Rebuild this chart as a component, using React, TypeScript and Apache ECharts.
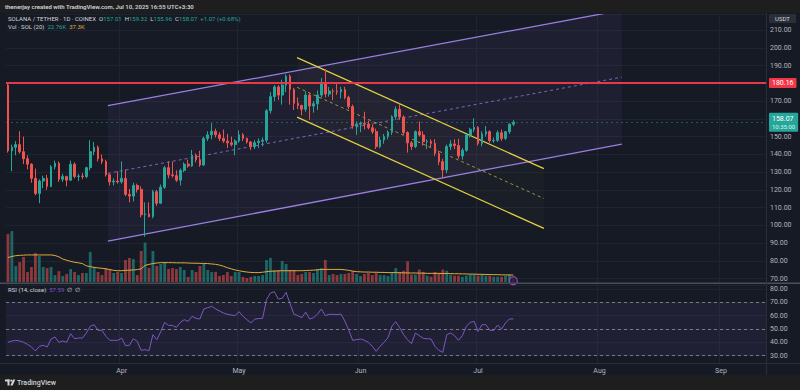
import React, { useEffect, useRef } from "react";
import * as echarts from "echarts";

const FONT = "Roboto, 'Noto Sans', sans-serif";
const MONTHS = ["Jan", "Feb", "Mar", "Apr", "May", "Jun", "Jul", "Aug", "Sep", "Oct", "Nov", "Dec"];

// daily categories 2025-03-03 .. 2025-09-12
const START_UTC = Date.UTC(2025, 2, 3);
const DAY_COUNT = 194;
const categories: string[] = [];
for (let i = 0; i < DAY_COUNT; i++) {
  categories.push(new Date(START_UTC + i * 86400000).toISOString().slice(0, 10));
}

const opens = [
  179, 142, 144, 145.5, 141.5, 137.5, 134.5, 126.5, 118, 125,
  126.5, 122, 133, 135, 126, 127.5, 125.5, 134.5, 127.5, 127.8,
  127.5, 132.5, 141.5, 144, 137.5, 136, 128.5, 124.5, 125, 124.5,
  126.5, 117.5, 116.5, 122.5, 120.3, 106, 106.5, 105, 119, 112.5,
  121.5, 132.5, 128.5, 128, 125.5, 131, 134.5, 133.5, 139.5, 137,
  134, 149, 151, 153, 151, 149, 147.5, 146.5, 145.5, 147.5,
  151, 149, 147, 144.4, 146.6, 147.4, 148, 164.6, 172.5, 178,
  173.4, 179, 184, 176.6, 168.8, 167.5, 165.4, 173.4, 167.2, 168.5,
  173.4, 179.6, 174, 175.7, 175.5, 175.2, 176.5, 172.1, 166.9, 156,
  157, 157.5, 157, 155, 152.8, 144.4, 148.1, 150, 152.5, 161.2,
  165.4, 161, 152.3, 146.5, 144.4, 152.8, 150.9, 147.1, 147.3, 146.2,
  140.6, 135.9, 131.2, 144.4, 145.9, 145, 139.1, 142.3, 150.9, 154.1,
  155.2, 146.2, 151.5, 152.8, 147.7, 147.9, 152.2, 149, 152.8, 157.01,
];
const closes = [
  142, 144, 145.5, 141.5, 137.5, 134.5, 126.5, 118, 125, 126.5,
  122, 133, 135, 126, 127.5, 125.5, 134.5, 127.5, 127.8, 127.5,
  132.5, 141.5, 144, 137.5, 136, 128.5, 124.5, 125, 124.5, 126.5,
  117.5, 116.5, 122.5, 120.3, 106, 106.5, 105, 119, 112.5, 121.5,
  132.5, 128.5, 128, 125.5, 131, 134.5, 133.5, 139.5, 137, 134,
  149, 151, 153, 151, 149, 147.5, 146.5, 145.5, 147.5, 151,
  149, 147, 144.4, 146.6, 147.4, 148, 164.6, 172.5, 178, 173.4,
  179, 184, 176.6, 168.8, 167.5, 165.4, 173.4, 167.2, 168.5, 173.4,
  179.6, 174, 175.7, 175.5, 175.2, 176.5, 172.1, 166.9, 156, 157,
  157.5, 157, 155, 152.8, 144.4, 148.1, 150, 152.5, 161.2, 165.4,
  161, 152.3, 146.5, 144.4, 152.8, 150.9, 147.1, 147.3, 146.2, 140.6,
  135.9, 131.2, 144.4, 145.9, 145, 139.1, 142.3, 150.9, 154.1, 155.2,
  146.2, 151.5, 152.8, 147.7, 147.9, 152.2, 149, 152.8, 157.01, 158.07,
];
const highs = [
  180, 145.5, 147.5, 153, 150, 139.5, 135, 132, 126, 128,
  128.5, 134, 136.5, 136, 129, 128, 136.5, 135.5, 129, 129.5,
  133, 148, 147, 145, 140, 137, 129, 126.5, 130.5, 136,
  131.5, 120.5, 124, 123.5, 122, 113, 113, 120, 120, 123,
  133.5, 136, 136, 131, 132, 135.5, 137, 142.5, 140.5, 142,
  150, 153, 157.5, 154.5, 152.5, 154, 151.5, 150, 148.5, 153.5,
  152, 149.5, 147.5, 148, 149, 149.5, 165.5, 175, 179, 179,
  182, 185, 185, 177.5, 172, 168, 175.5, 174.5, 170, 176,
  183, 188, 178, 177, 180, 178, 178, 173, 168, 158.5,
  158.5, 164, 159, 157, 154.5, 150, 151.5, 153.5, 162, 167,
  168.5, 162, 153, 147.5, 153.5, 158.5, 153, 148.5, 148.5, 148.5,
  142, 137.5, 145.5, 148, 148.5, 148.8, 143.5, 151.5, 155, 160.3,
  156, 153, 156, 153.5, 149.5, 153.5, 154, 153, 157.5, 159.32,
];
const lows = [
  141, 130.5, 139.5, 140.5, 134.5, 131.5, 124, 117, 112.5, 121,
  120, 121.5, 131.5, 124.5, 124.5, 122, 125, 126.5, 125, 126,
  126.5, 131, 139.5, 136, 134.5, 127.5, 122.5, 122.5, 123.5, 123.5,
  116.5, 113, 113.5, 118.5, 104.5, 93.7, 104.5, 104, 111, 112,
  120.5, 126.5, 127, 124.5, 122.5, 130, 132.5, 133, 135.5, 133,
  133.5, 147.5, 148.5, 149.5, 147.5, 146.5, 143.5, 144.5, 139.5, 146.5,
  147.5, 146, 142.5, 143, 143.5, 144.5, 146.5, 163, 170, 170.5,
  168, 175, 168, 165, 165.5, 162, 164, 159.5, 163.5, 165,
  172, 172, 172.5, 170.5, 173.5, 171.5, 171, 165.5, 154.5, 151,
  152.5, 154, 154, 151.5, 143, 143.5, 146, 148.5, 151, 159.5,
  159.5, 151, 141, 142.5, 143.5, 150, 145, 143, 144, 139,
  134, 126.5, 129.5, 142.5, 143, 137.5, 137, 141.5, 149.5, 152.5,
  145, 144.5, 150, 146.5, 146.5, 147, 147.5, 148, 151.5, 155.96,
];
// volume in thousands of SOL
const volumesK = [
  255, 271, 85, 106, 133, 53, 80, 154, 138, 80,
  74, 80, 37, 58, 32, 43, 69, 53, 37, 48,
  48, 160, 80, 53, 37, 74, 69, 48, 53, 48,
  117, 128, 122, 37, 165, 210, 75, 165, 85, 96,
  106, 69, 74, 69, 80, 64, 27, 64, 53, 85,
  96, 64, 53, 53, 32, 37, 53, 32, 53, 53,
  27, 21, 27, 32, 32, 37, 117, 128, 64, 64,
  112, 96, 64, 64, 37, 43, 53, 53, 48, 69,
  74, 117, 37, 43, 37, 43, 43, 48, 58, 43,
  32, 43, 48, 37, 48, 37, 37, 32, 48, 74,
  54, 60, 110, 40, 40, 66, 54, 34, 28, 54,
  46, 66, 60, 40, 34, 34, 28, 34, 40, 40,
  34, 40, 34, 34, 28, 28, 28, 34, 40, 22.76,
];
const volumeMA20K = [
  130, 136, 140, 142, 143, 144, 144, 144, 144, 144,
  144, 144, 141, 134, 122, 116, 110, 105, 102, 98,
  86, 82, 78, 75, 73, 70, 66, 62, 60, 60,
  62, 63, 64, 66, 70, 88, 94, 98, 101, 103,
  103, 103, 103, 102, 102, 102, 101, 100, 100, 99,
  99, 98, 96, 94, 90, 84, 76, 70, 64, 60,
  56, 53, 51, 50, 50, 52, 55, 57, 58, 59,
  60, 60, 60, 60, 60, 60, 61, 62, 63, 65,
  67, 67, 67, 67, 67, 67, 65, 62, 58, 55,
  54, 53, 53, 52, 52, 51, 51, 50, 50, 50,
  49, 49, 48, 48, 48, 47, 47, 46, 46, 46,
  46, 45, 45, 45, 44, 44, 43, 43, 42, 42,
  41, 41, 40, 40, 39, 39, 38, 38, 37.5, 37.3,
];
const rsi14 = [
  40, 41, 41.5, 41, 40, 38.5, 36.5, 33.5, 37, 37.8,
  36.5, 42.5, 44, 40, 41, 40, 46.5, 42.7, 43.2, 43.2,
  47, 52, 53.2, 49, 49, 44.5, 41.5, 41.5, 41.5, 43.2,
  37.5, 37.8, 42.7, 40.7, 34, 34.5, 33.7, 45.7, 42, 48,
  55, 52.7, 52.7, 51.2, 55, 57, 55.7, 59.5, 58, 57.5,
  65, 66, 67, 65, 63.5, 62, 61, 60.5, 60, 63,
  59.5, 57, 54.5, 57.5, 57.8, 58, 72, 77, 78, 72.5,
  73, 77.5, 69, 61, 60, 58.5, 62.7, 57.5, 58.5, 61,
  65, 60, 61, 61, 60.8, 61.2, 56, 49, 41.5, 42,
  42.5, 41.5, 40, 37, 33.3, 37, 40, 43.5, 52, 55.5,
  51, 45.7, 42, 39, 47, 45, 43, 42.7, 42.5, 37,
  34, 32.5, 45.7, 47, 45, 41.5, 45, 52, 55, 55.7,
  48.2, 53.2, 53.2, 49, 49, 53, 50, 54.5, 57.5, 57.59,
];

const RESISTANCE_LEVEL = 180.16;
const LAST_PRICE = 158.07;
const RSI_LEVELS = [70, 50, 30];
// price ticks hidden behind the price tags on the right scale
const COVERED_TICKS = [160, 180];

// channel anchors (day index start, day index end, upper start, upper end, lower start, lower end)
const ascendingChannel = [25.5, 156.7, 167.4, 221.2, 91.2, 145.8];
const descendingChannel = [73.8, 136.8, 194.5, 132.0, 161.0, 98.3];

const CHANNEL_STYLES = [
  { line: "#9a7fe3", mid: "rgba(154,127,227,0.75)", fill: "rgba(126,87,194,0.09)" },
  { line: "#e3d040", mid: "rgba(227,208,64,0.65)", fill: "rgba(227,208,64,0.025)" },
];

export default function App() {
  const ref = useRef<HTMLDivElement>(null);

  useEffect(() => {
    document.body.style.margin = "0";
    document.body.style.background = "#1e1e1e";
    const chart = echarts.init(ref.current as HTMLDivElement, undefined, { renderer: "svg" });

    const UP = "#26a69a";
    const DOWN = "#ef5350";
    const GRID = "#1f2430";
    const AXIS_TEXT = "#b2b5be";

    const candleData = opens.map((o, i) => [o, closes[i], lows[i], highs[i]]);
    const volumeData = volumesK.map((v, i) => ({
      value: v,
      itemStyle: { color: closes[i] >= opens[i] ? "rgba(38,166,154,0.55)" : "rgba(239,83,80,0.55)" },
    }));
    const isMonthStart = (i: number) => categories[i].endsWith("-01");
    const monthLabel = (v: string) => MONTHS[parseInt(v.slice(5, 7), 10) - 1];
    const priceLabel = (v: number) =>
      COVERED_TICKS.some((t) => Math.abs(t - v) < 1e-6) ? "" : v.toFixed(2);

    const option = {
      animation: false,
      backgroundColor: "#161a25",
      textStyle: { fontFamily: FONT },
      grid: [
        { left: 6, right: 34, top: 14, height: 269 },
        { left: 6, right: 34, top: 217, height: 65 },
        { left: 6, right: 34, top: 285, height: 78 },
      ],
      xAxis: [
        {
          type: "category", gridIndex: 0, data: categories, boundaryGap: true,
          axisLine: { show: false }, axisTick: { show: false }, axisLabel: { show: false },
          splitLine: { show: true, interval: (i: number) => isMonthStart(i), lineStyle: { color: GRID, width: 1 } },
        },
        { type: "category", gridIndex: 1, data: categories, boundaryGap: true, show: false },
        {
          type: "category", gridIndex: 2, data: categories, boundaryGap: true,
          axisLine: { show: false }, axisTick: { show: false },
          axisLabel: {
            show: true, interval: (i: number) => isMonthStart(i), formatter: monthLabel,
            color: AXIS_TEXT, fontSize: 7, margin: 4, fontFamily: FONT,
          },
          splitLine: { show: true, interval: (i: number) => isMonthStart(i), lineStyle: { color: GRID, width: 1 } },
        },
        { type: "value", gridIndex: 0, min: -0.5, max: DAY_COUNT - 0.5, show: false },
      ],
      yAxis: [
        {
          type: "value", gridIndex: 0, position: "right", min: 67.58, max: 219.04, splitNumber: 15,
          axisLine: { show: false }, axisTick: { show: false },
          axisLabel: {
            color: AXIS_TEXT, fontSize: 7, margin: 4, fontFamily: FONT,
            formatter: priceLabel, showMinLabel: false, showMaxLabel: false,
          },
          splitLine: { lineStyle: { color: GRID, width: 1 } },
        },
        { type: "value", gridIndex: 1, min: 0, max: 346, show: false },
        {
          type: "value", gridIndex: 2, position: "right", min: 24.5, max: 83, splitNumber: 6,
          axisLine: { show: false }, axisTick: { show: false },
          axisLabel: {
            color: AXIS_TEXT, fontSize: 7, margin: 4, fontFamily: FONT,
            formatter: (v: number) => v.toFixed(2), showMinLabel: false, showMaxLabel: false,
          },
          splitLine: { lineStyle: { color: GRID, width: 1 } },
        },
      ],
      series: [
        {
          type: "custom",
          xAxisIndex: 3,
          yAxisIndex: 0,
          clip: true,
          silent: true,
          z: 1,
          data: [ascendingChannel, descendingChannel],
          encode: { x: [0, 1], y: [2, 3, 4, 5] },
          renderItem: (params: any, api: any) => {
            const st = CHANNEL_STYLES[params.dataIndex];
            const x0 = api.value(0), x1 = api.value(1);
            const u0 = api.coord([x0, api.value(2)]);
            const u1 = api.coord([x1, api.value(3)]);
            const l0 = api.coord([x0, api.value(4)]);
            const l1 = api.coord([x1, api.value(5)]);
            const m0 = [(u0[0] + l0[0]) / 2, (u0[1] + l0[1]) / 2];
            const m1 = [(u1[0] + l1[0]) / 2, (u1[1] + l1[1]) / 2];
            const seg = (a: number[], b: number[], stroke: string, w: number, dash?: number[]) => ({
              type: "line",
              shape: { x1: a[0], y1: a[1], x2: b[0], y2: b[1] },
              style: { stroke, lineWidth: w, lineDash: dash || null, fill: null },
            });
            return {
              type: "group",
              children: [
                { type: "polygon", shape: { points: [u0, u1, l1, l0] }, style: { fill: st.fill } },
                seg(u0, u1, st.line, 1.3),
                seg(l0, l1, st.line, 1.3),
                seg(m0, m1, st.mid, 1, [3, 3]),
              ],
            };
          },
        },
        {
          type: "candlestick",
          xAxisIndex: 0,
          yAxisIndex: 0,
          z: 3,
          data: candleData,
          barWidth: 2.2,
          itemStyle: { color: UP, color0: DOWN, borderColor: UP, borderColor0: DOWN, borderWidth: 1 },
          markLine: {
            silent: true,
            symbol: ["none", "none"],
            data: [
              {
                yAxis: RESISTANCE_LEVEL,
                lineStyle: { color: "#e8394c", width: 2, type: "solid" },
                label: {
                  show: true, position: "end", distance: 3, formatter: RESISTANCE_LEVEL.toFixed(2),
                  backgroundColor: "#f23645", color: "#ffffff", fontSize: 7, padding: [2, 3, 1, 3],
                  fontFamily: FONT, borderRadius: 1,
                },
              },
              {
                yAxis: LAST_PRICE,
                lineStyle: { color: "rgba(38,166,154,0.45)", width: 1, type: [2, 3] },
                label: {
                  show: true, position: "end", distance: 3,
                  formatter: "{a|" + LAST_PRICE.toFixed(2) + "}\n{b|10:35:00}",
                  backgroundColor: "#26a69a", padding: [2, 3, 1, 3], borderRadius: 1,
                  rich: {
                    a: { color: "#ffffff", fontSize: 7, fontFamily: FONT, lineHeight: 8 },
                    b: { color: "#d8f3ef", fontSize: 6, fontFamily: FONT, lineHeight: 8 },
                  },
                },
              },
            ],
          },
        },
        {
          type: "bar",
          xAxisIndex: 1,
          yAxisIndex: 1,
          z: 2,
          barWidth: 2.8,
          data: volumeData,
        },
        {
          type: "line",
          xAxisIndex: 1,
          yAxisIndex: 1,
          z: 4,
          data: volumeMA20K,
          symbol: "none",
          lineStyle: { color: "#e0ac3c", width: 1 },
        },
        {
          type: "scatter",
          xAxisIndex: 1,
          yAxisIndex: 1,
          z: 5,
          data: [[categories[129], 7]],
          symbol: "circle",
          symbolSize: 8,
          itemStyle: { color: "#2a1d36", borderColor: "#b34fd6", borderWidth: 1.2 },
        },
        {
          type: "line",
          xAxisIndex: 2,
          yAxisIndex: 2,
          z: 4,
          data: rsi14,
          symbol: "none",
          lineStyle: { color: "#7e57c2", width: 1 },
          markArea: {
            silent: true,
            itemStyle: { color: "rgba(126,87,194,0.1)" },
            data: [[{ yAxis: RSI_LEVELS[2] }, { yAxis: RSI_LEVELS[0] }]],
          },
          markLine: {
            silent: true,
            symbol: ["none", "none"],
            label: { show: false },
            lineStyle: { color: "#787b86", width: 1, type: [3, 3] },
            data: RSI_LEVELS.map((v) => ({ yAxis: v })),
          },
        },
      ],
      graphic: [
        { type: "rect", shape: { x: 0, y: 0, width: 800, height: 13 }, style: { fill: "#1e1e1e" }, z: 0 },
        { type: "rect", shape: { x: 0, y: 375, width: 800, height: 15 }, style: { fill: "#1e1e1e" }, z: 0 },
        { type: "rect", shape: { x: 0, y: 282.5, width: 800, height: 1.5 }, style: { fill: "#4a4e5a" }, z: 10 },
        { type: "rect", shape: { x: 766, y: 13, width: 1, height: 362 }, style: { fill: "#2a2e39" }, z: 10 },
        { type: "rect", shape: { x: 0, y: 363, width: 800, height: 1 }, style: { fill: "#2a2e39" }, z: 10 },
        {
          type: "text", x: 5, y: 6.5, z: 20,
          style: {
            text: "thenerjay created with TradingView.com, Jul 10, 2025 16:55 UTC+3:30",
            fill: "#d1d4dc", fontSize: 6, fontWeight: 600, fontFamily: FONT, verticalAlign: "middle",
          },
        },
        {
          type: "text", x: 8, y: 18, z: 20,
          style: {
            text: "{t|SOLANA / TETHER · 1D · COINEX}  {k|O}{v|157.01}  {k|H}{v|159.32}  {k|L}{v|155.96}  {k|C}{v|158.07}  {v|+1.07 (+0.68%)}",
            fontSize: 6, fontFamily: FONT, verticalAlign: "middle",
            rich: {
              t: { fill: "#d1d4dc", fontSize: 6, fontFamily: FONT },
              k: { fill: "#d1d4dc", fontSize: 6, fontFamily: FONT },
              v: { fill: "#26a69a", fontSize: 6, fontFamily: FONT },
            },
          },
        },
        {
          type: "text", x: 8, y: 26, z: 20,
          style: {
            text: "{t|Vol · SOL (20)}  {v|22.76K}  {m|37.3K}",
            fontSize: 6, fontFamily: FONT, verticalAlign: "middle",
            rich: {
              t: { fill: "#d1d4dc", fontSize: 6, fontFamily: FONT },
              v: { fill: "#26a69a", fontSize: 6, fontFamily: FONT },
              m: { fill: "#e0ac3c", fontSize: 6, fontFamily: FONT },
            },
          },
        },
        {
          type: "text", x: 8, y: 289.5, z: 20,
          style: {
            text: "{t|RSI (14, close)}  {v|57.59}  {t|∅  ∅}",
            fontSize: 6, fontFamily: FONT, verticalAlign: "middle",
            rich: {
              t: { fill: "#d1d4dc", fontSize: 6, fontFamily: FONT },
              v: { fill: "#7e57c2", fontSize: 6, fontFamily: FONT },
            },
          },
        },
        { type: "rect", shape: { x: 769, y: 14, width: 27, height: 9, r: 1 }, style: { fill: "#2a2e39" }, z: 20 },
        {
          type: "text", x: 782.5, y: 18.5, z: 21,
          style: { text: "USDT", fill: "#d1d4dc", fontSize: 6, fontFamily: FONT, align: "center", verticalAlign: "middle" },
        },
        { type: "rect", shape: { x: 5, y: 379.5, width: 4.5, height: 2 }, style: { fill: "#d1d4dc" }, z: 20 },
        { type: "rect", shape: { x: 7.5, y: 379.5, width: 2, height: 6 }, style: { fill: "#d1d4dc" }, z: 20 },
        { type: "circle", shape: { cx: 11.2, cy: 380.6, r: 1.1 }, style: { fill: "#d1d4dc" }, z: 20 },
        {
          type: "polygon", z: 20,
          shape: { points: [[13, 379.5], [15.3, 379.5], [12.6, 385.5], [10.3, 385.5]] },
          style: { fill: "#d1d4dc" },
        },
        {
          type: "text", x: 17, y: 382.5, z: 20,
          style: { text: "TradingView", fill: "#d1d4dc", fontSize: 7, fontWeight: 500, fontFamily: FONT, verticalAlign: "middle" },
        },
      ],
    };

    chart.setOption(option as any);
    return () => chart.dispose();
  }, []);

  return <div ref={ref} style={{ width: 800, height: 390 }} />;
}
